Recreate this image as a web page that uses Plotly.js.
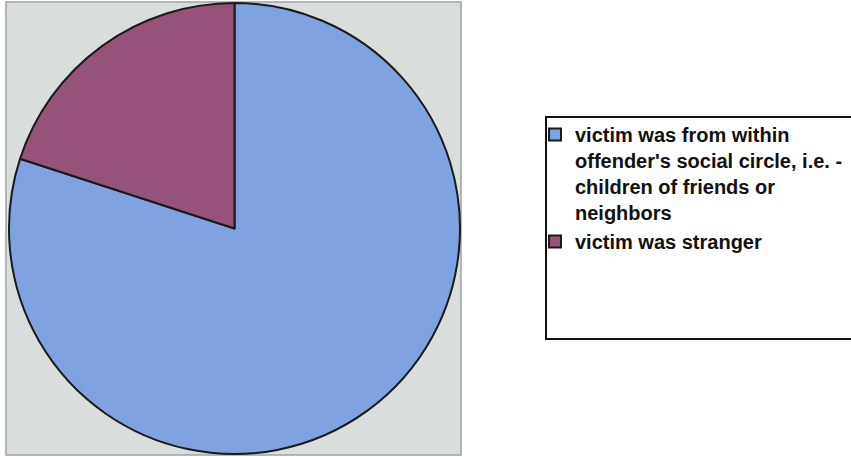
<!DOCTYPE html>
<html>
<head>
<meta charset="utf-8">
<script src="https://cdn.plot.ly/plotly-3.0.1.min.js"></script>
<style>html,body{margin:0;padding:0;background:#fff;}#chart{width:851px;height:457px;}</style>
</head>
<body>
<div id="chart"></div>
<script>
var categories = [
  "victim was from within<br>offender's social circle, i.e. -<br>children of friends or<br>neighbors",
  "victim was stranger"
];
var values = [80, 20];
var colors = ["#7fa3e0", "#965279"];

var W = 851, H = 457;
function px(x) { return x / W; }
function py(y) { return 1 - y / H; }

var data = [{
  type: "pie",
  labels: categories,
  values: values,
  sort: false,
  direction: "clockwise",
  rotation: 0,
  textinfo: "none",
  hoverinfo: "label+percent",
  marker: { colors: colors, line: { color: "#1a1a1a", width: 2 } },
  domain: { x: [px(9), px(460)], y: [py(454), py(3)] }
}];

var layout = {
  width: W, height: H,
  margin: { l: 0, r: 0, t: 0, b: 0 },
  paper_bgcolor: "#ffffff",
  showlegend: true,
  legend: {
    x: px(535), y: py(115), xanchor: "left", yanchor: "top",
    valign: "top",
    bgcolor: "rgba(0,0,0,0)", borderwidth: 0,
    font: { family: "Liberation Sans, Arial, sans-serif", size: 20, color: "#111111", weight: "bold" },
    itemclick: false
  },
  shapes: [
    { type: "rect", xref: "paper", yref: "paper", layer: "below",
      x0: px(6), x1: px(461), y0: py(455), y1: py(2),
      fillcolor: "#d9dddc", line: { color: "#9ea2a2", width: 1.5 } },
    { type: "rect", xref: "paper", yref: "paper", layer: "below",
      x0: px(546), x1: px(858), y0: py(339), y1: py(117),
      fillcolor: "#ffffff", line: { color: "#111111", width: 2 } }
  ]
};

Plotly.newPlot("chart", data, layout, { displayModeBar: false, staticPlot: true });
</script>
</body>
</html>
